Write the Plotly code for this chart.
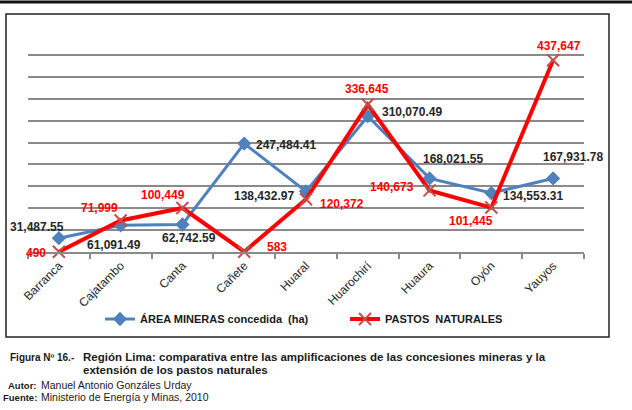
import plotly.graph_objects as go

# Provincias de la Región Lima
provincias = ["Barranca", "Cajatambo", "Canta", "Cañete", "Huaral",
              "Huarochirí", "Huaura", "Oyón", "Yauyos"]
area_minera = [31487.55, 61091.49, 62742.59, 247484.41, 138432.97,
               310070.49, 168021.55, 134553.31, 167931.78]
pastos = [490, 71999, 100449, 583, 120372, 336645, 140673, 101445, 437647]

# pixel offsets of the value labels (dx, dy), tuned by eye
off_area = [(-22, 11), (-7, -20), (7, -13), (42, -1), (-42, -5),
            (44, 4), (23, 19), (42, -3), (20, 21)]
off_pastos = [(-23, -1), (-21, 12), (-19, 13), (33, 5), (36, -5),
              (-1, 16), (-38, 3), (-20, -13), (6, 14)]

FONT = "Liberation Sans, Arial, sans-serif"
W, H = 632, 410
L, R, T, B = 28, 48, 33, 158
PW, PH = W - L - R, H - T - B


def px(x):
    return (x - L) / PW


def py(y):
    return (H - B - y) / PH


fig = go.Figure()
fig.add_trace(go.Scatter(
    x=provincias, y=area_minera, mode="lines+markers",
    name="ÁREA MINERAS concedida  (ha)",
    line=dict(color="#4F81BD", width=3),
    marker=dict(symbol="diamond", size=11, color="#4F81BD"),
    cliponaxis=False,
))
fig.add_trace(go.Scatter(
    x=provincias, y=pastos, mode="lines+markers",
    name="PASTOS  NATURALES",
    line=dict(color="#FF0000", width=4),
    marker=dict(symbol="x-thin", size=12, color="#C0504D",
                line=dict(color="#C0504D", width=2)),
    cliponaxis=False,
))

annotations = []
for cat, v, (dx, dy) in zip(provincias, area_minera, off_area):
    annotations.append(dict(x=cat, y=v, text=f"{v:,.2f}", showarrow=False,
                            xshift=dx, yshift=dy,
                            font=dict(family=FONT, size=12, color="#262626",
                                      weight="bold")))
for cat, v, (dx, dy) in zip(provincias, pastos, off_pastos):
    annotations.append(dict(x=cat, y=v, text=f"{v:,.0f}", showarrow=False,
                            xshift=dx, yshift=dy,
                            font=dict(family=FONT, size=12, color="#FF0000",
                                      weight="bold")))


def caption(x, y, text, size, bold, anchor="left"):
    annotations.append(dict(xref="paper", yref="paper", x=px(x), y=py(y),
                            text=text, showarrow=False, xanchor=anchor,
                            yanchor="middle",
                            font=dict(family=FONT, size=size, color="#1a1a1a",
                                      weight="bold" if bold else "normal")))


caption(8, 357, "Figura Nº 16.-", 10, True)
caption(81, 357, "Región Lima: comparativa entre las amplificaciones de las "
        "concesiones mineras y la", 11.5, True)
caption(81, 370, "extensión de los pastos naturales", 11.5, True)
caption(39, 385, "Autor:", 9.5, True, "right")
caption(39, 385, "Manuel Antonio Gonzáles Urday", 10.5, False)
caption(39, 397, "Fuente:", 9.5, True, "right")
caption(39, 397, "Ministerio de Energía y Minas, 2010", 10.5, False)

shapes = [
    dict(type="rect", xref="paper", yref="paper",
         x0=px(6), x1=px(609), y0=py(337), y1=py(14),
         line=dict(color="#222222", width=1.5)),
    dict(type="line", xref="paper", yref="paper",
         x0=px(0), x1=px(632), y0=py(2), y1=py(2),
         line=dict(color="#111111", width=3)),
]

fig.update_layout(
    width=W, height=H,
    margin=dict(l=L, r=R, t=T, b=B, autoexpand=False),
    paper_bgcolor="white", plot_bgcolor="white",
    font=dict(family=FONT, size=11, color="#333333"),
    showlegend=True,
    legend=dict(orientation="h", x=px(100), y=py(319), xanchor="left",
                yanchor="middle", itemwidth=30, entrywidth=200,
                bgcolor="rgba(0,0,0,0)",
                font=dict(family=FONT, size=11, color="#1a1a1a",
                          weight="bold")),
    annotations=annotations,
    shapes=shapes,
)
fig.update_xaxes(
    range=[-0.5, len(provincias) - 0.5],
    showgrid=False, showline=True, linecolor="#8a8a8a", linewidth=2,
    ticks="outside", tickson="boundaries", ticklen=5, tickcolor="#8a8a8a",
    tickwidth=1.5, tickangle=-45, tickfont=dict(size=12, color="#262626"),
    automargin=False,
)
fig.update_yaxes(
    range=[0, 500000], dtick=50000, showticklabels=False,
    showgrid=True, gridcolor="#8a8a8a", gridwidth=1.8,
    zeroline=False, showline=False, automargin=False,
)

# the default page has an 8px body margin; drop it so the figure sits at 0,0
fig.write_html("out.html", config={"displayModeBar": False},
               post_script="document.body.style.margin='0';")
